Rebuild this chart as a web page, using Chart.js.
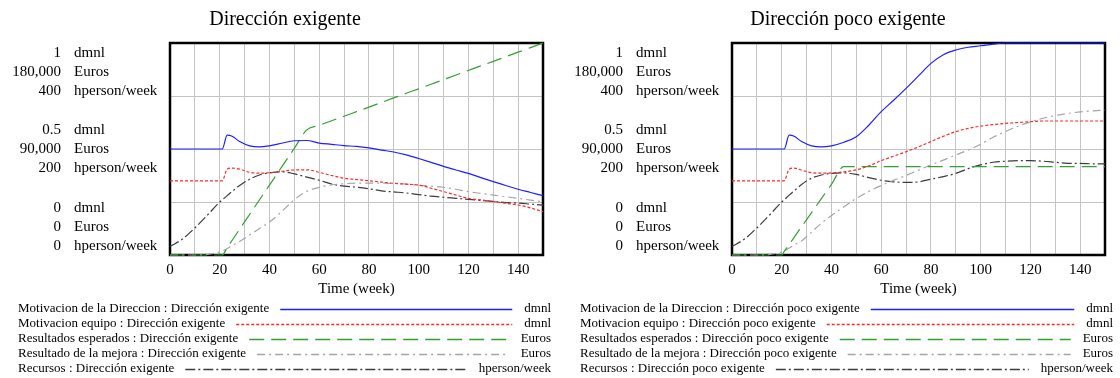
<!DOCTYPE html>
<html><head><meta charset="utf-8">
<script src="https://cdn.jsdelivr.net/npm/chart.js@4.4.1/dist/chart.umd.min.js"></script>
<style>
html,body{margin:0;padding:0;background:#fff;}
#wrap{display:flex;width:1120px;height:378px;}
.box{position:relative;width:560px;height:378px;}
canvas{display:block;}
</style></head><body>
<div id="wrap"><div class="box"><canvas id="c1" width="560" height="378"></canvas></div><div class="box"><canvas id="c2" width="560" height="378"></canvas></div></div>
<script>
// ---- data ----
const weeks = [0,5,10,15,20,21,23,25,28,32,36,40,45,50,55,60,65,70,75,80,85,90,95,100,105,110,115,120,125,130,135,140,145,150];
const scenarios = ['Dirección exigente', 'Dirección poco exigente'];
const seriesNames = ['Motivacion de la Direccion', 'Motivacion equipo', 'Resultados esperados', 'Resultado de la mejora', 'Recursos'];
const seriesUnits = ['dmnl', 'dmnl', 'Euros', 'Euros', 'hperson/week'];
const axisUnits = ['dmnl', 'Euros', 'hperson/week'];
const axisMax = [1, 180000, 400];
const axisFractions = [1, 0.5, 0];
const xTickStep = 10;
const xLabelStep = 20;
const xTitle = 'Time (week)';

// Dirección exigente
const motDirE = [0.5,0.5,0.5,0.5,0.5,0.5,0.565,0.56,0.535,0.515,0.51,0.515,0.527,0.539,0.54,0.528,0.522,0.516,0.512,0.505,0.495,0.486,0.472,0.455,0.437,0.418,0.401,0.385,0.365,0.346,0.328,0.31,0.295,0.28];
const motEqE = [0.35,0.35,0.35,0.35,0.35,0.35,0.405,0.41,0.405,0.39,0.386,0.388,0.395,0.401,0.402,0.39,0.375,0.362,0.356,0.35,0.344,0.338,0.334,0.33,0.315,0.299,0.283,0.267,0.26,0.252,0.244,0.236,0.222,0.204];
const resEspE = [0,0,0,0,0,0,6250,12500,21900,34400,46900,59400,75000,90600,106200,110100,114000,117800,121700,125600,129500,133400,137300,141100,145000,148900,152800,156700,160600,164400,168300,172200,176100,180000];
const resMejE = [0,0,0,500,2500,3200,5500,8000,11500,17000,22500,28000,37000,47000,54000,57500,59500,60500,61000,61000,61000,60800,60300,59200,58500,57500,55800,53800,52300,50900,49500,48100,46600,45200];
const recE = [16,30,51,75,100,104,112,120,131,143,151,155,157,153,147,141,134,130,128,125,121,119,117,114,111,109,107,105,103,101,99,98,96,94];

// Dirección poco exigente
const motDirP = [0.5,0.5,0.5,0.5,0.5,0.5,0.565,0.56,0.535,0.515,0.51,0.515,0.532,0.558,0.612,0.676,0.73,0.786,0.845,0.904,0.945,0.967,0.98,0.987,0.995,1,1,1,1,1,1,1,1,1];
const motEqP = [0.35,0.35,0.35,0.35,0.35,0.35,0.405,0.41,0.4,0.388,0.386,0.387,0.392,0.402,0.42,0.445,0.466,0.487,0.51,0.535,0.56,0.582,0.597,0.608,0.615,0.621,0.625,0.629,0.632,0.632,0.632,0.632,0.632,0.632];
const resEspP = [0,0,0,0,0,3000,9000,15000,24000,36000,48000,60000,75000,75000,75000,75000,75000,75000,75000,75000,75000,75000,75000,75000,75000,75000,75000,75000,75000,75000,75000,75000,75000,75000];
const resMejP = [0,0,0,500,2500,3200,6000,8500,12000,19500,27000,33500,41000,48000,54000,59000,63400,67500,72000,76500,80600,85000,89100,94000,99900,104800,109300,113000,116100,118400,120200,121500,122400,123100];
const recP = [16,30,51,75,100,104,113,121,133,145,151,154,155,152,146,141,138,137,138,143,148,154,163,170,175,177,178,178,177,175,173,173,172,172];

// ---- styles ----
const FONT = '"Liberation Serif", "Times New Roman", serif';
const seriesStyles = [
  { color: 'rgb(30,30,255)', dash: [], axis: 'yD' },
  { color: 'rgb(255,40,40)', dash: [3, 2], axis: 'yD' },
  { color: 'rgb(50,160,50)', dash: [15, 7], axis: 'yE' },
  { color: 'rgb(165,165,165)', dash: [8, 4, 2, 4], axis: 'yE' },
  { color: 'rgb(60,60,60)', dash: [10, 3, 2, 3], axis: 'yH' }
];

const decor = {
  id: 'decor',
  beforeDatasetsDraw(chart) {
    const { ctx, chartArea: a } = chart;
    ctx.save();
    ctx.strokeStyle = '#000';
    ctx.lineWidth = 2.5;
    ctx.strokeRect(a.left, a.top, a.right - a.left, a.bottom - a.top);
    ctx.restore();
  },
  afterDraw(chart, args, opts) {
    const { ctx, chartArea: a } = chart;
    ctx.save();
    ctx.fillStyle = '#000';
    ctx.textBaseline = 'middle';
    // title
    ctx.font = '20px ' + FONT;
    ctx.textAlign = 'center';
    ctx.fillText(opts.title, opts.titleX, 20);
    // y axis labels
    ctx.font = '15px ' + FONT;
    const yD = chart.scales.yD;
    axisFractions.forEach(f => {
      let c = yD.getPixelForValue(f);
      if (f === 1) c += 29; else if (f === 0) c -= 28;
      axisUnits.forEach((u, k) => {
        const y = c + (k - 1) * 19;
        const num = (axisMax[k] * f).toLocaleString('en-US');
        ctx.textAlign = 'right';
        ctx.fillText(num, a.left - 109, y);
        ctx.textAlign = 'left';
        ctx.fillText(u, a.left - 96, y);
      });
    });
    // legend
    ctx.font = '13px ' + FONT;
    const unitRight = a.right + 8;
    chart.data.datasets.forEach((ds, i) => {
      const y = a.bottom + 54 + i * 15;
      ctx.textAlign = 'left';
      ctx.fillStyle = '#000';
      ctx.fillText(ds.label, opts.legendX, y);
      const tw = ctx.measureText(ds.label).width;
      ctx.textAlign = 'right';
      ctx.fillText(ds.unit, unitRight, y);
      const uw = ctx.measureText(ds.unit).width;
      ctx.beginPath();
      ctx.strokeStyle = ds.borderColor;
      ctx.lineWidth = 1.5;
      ctx.setLineDash(ds.borderDash);
      ctx.moveTo(opts.legendX + tw + 11, y + 0.5);
      ctx.lineTo(unitRight - uw - 12, y + 0.5);
      ctx.stroke();
      ctx.setLineDash([]);
    });
    ctx.restore();
  }
};

function makeChart(id, scenario, arrays, geom) {
  const datasets = arrays.map((arr, i) => ({
    label: seriesNames[i] + ' : ' + scenario,
    unit: seriesUnits[i],
    data: weeks.map((w, j) => ({ x: w, y: arr[j] })),
    yAxisID: seriesStyles[i].axis,
    borderColor: seriesStyles[i].color,
    borderDash: seriesStyles[i].dash,
    borderWidth: 1.2,
    pointRadius: 0,
    fill: false,
    clip: 3,
    cubicInterpolationMode: 'monotone'
  }));
  return new Chart(document.getElementById(id), {
    type: 'line',
    data: { datasets },
    plugins: [decor],
    options: {
      responsive: false,
      animation: false,
      devicePixelRatio: 1,
      layout: { padding: { top: 43, right: geom.padRight, bottom: 78, left: 0 } },
      plugins: {
        legend: { display: false },
        tooltip: { enabled: false },
        decor: { title: scenario, titleX: geom.titleX, legendX: geom.legendX }
      },
      scales: {
        x: {
          type: 'linear', min: 0, max: 150,
          afterFit(s) { s.height = 45; },
          grid: { color: '#c4c4c4', drawTicks: false, lineWidth: 1 },
          border: { display: false },
          ticks: {
            stepSize: xTickStep, autoSkip: false, maxRotation: 0, padding: 6,
            color: '#000', font: { family: FONT, size: 15 },
            callback: v => (v % xLabelStep === 0 && v < 150) ? String(v) : ''
          },
          title: { display: true, text: xTitle, color: '#000', font: { family: FONT, size: 15 }, padding: { top: 0, bottom: 2 } }
        },
        yD: {
          type: 'linear', position: 'left', min: 0, max: axisMax[0],
          afterFit(s) { s.width = geom.left; },
          grid: { color: '#c4c4c4', drawTicks: false },
          border: { display: false },
          ticks: { stepSize: 0.25, display: false }
        },
        yE: { type: 'linear', display: false, min: 0, max: axisMax[1] },
        yH: { type: 'linear', display: false, min: 0, max: axisMax[2] }
      }
    }
  });
}

makeChart('c1', scenarios[0], [motDirE, motEqE, resEspE, resMejE, recE], { left: 170, padRight: 17, titleX: 285, legendX: 18 });
makeChart('c2', scenarios[1], [motDirP, motEqP, resEspP, resMejP, recP], { left: 172, padRight: 15, titleX: 288, legendX: 20 });
</script>
</body></html>
